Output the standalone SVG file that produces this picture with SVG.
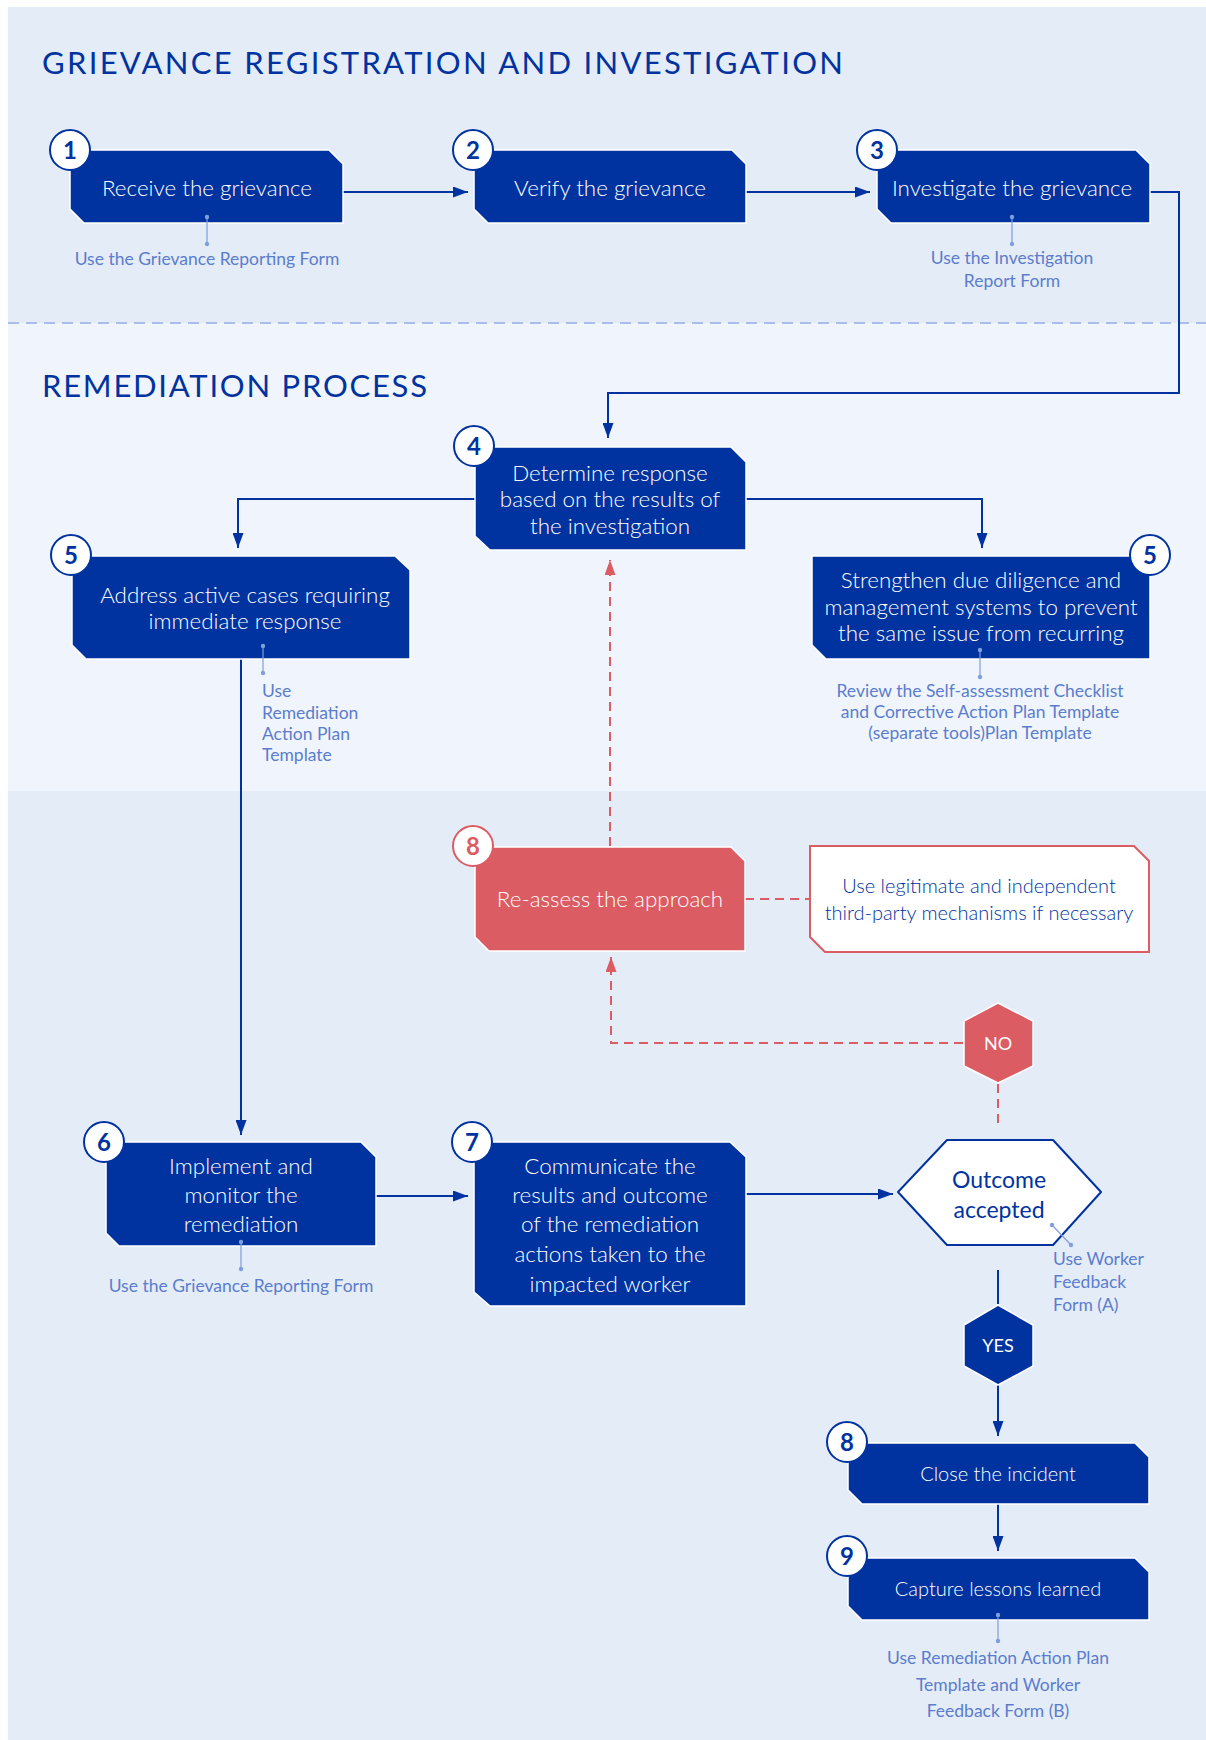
<svg xmlns="http://www.w3.org/2000/svg" width="1206" height="1740" viewBox="0 0 1206 1740">
  <defs>
    <style>
      .band-a { fill: #e4ecf8; }
      .band-b { fill: #f0f5fd; }
      .sep { stroke: #a9bde6; stroke-width: 2; stroke-dasharray: 11 7; fill: none; }
      .title { font-family: "Lato", "Liberation Sans", sans-serif; font-size: 31px; fill: #0033a0; }
      .box { fill: #0033a0; stroke: #ffffff; stroke-width: 1.5; }
      .box-red { fill: #dc5c63; stroke: #ffffff; stroke-width: 1.5; }
      .box-note { fill: #ffffff; stroke: #dc5c63; stroke-width: 2; }
      .lbl { font-family: "Lato", "Liberation Sans", sans-serif; font-size: 22.4px; font-weight: 300; fill: #ffffff; text-anchor: middle; }
      .lbl-dark { font-family: "Lato", "Liberation Sans", sans-serif; font-size: 20px; font-weight: 300; fill: #0033a0; text-anchor: middle; }
      .num-c { fill: #ffffff; stroke: #0033a0; stroke-width: 2; }
      .num-c-red { fill: #ffffff; stroke: #dc5c63; stroke-width: 2; }
      .num { font-family: "Lato", "Liberation Sans", sans-serif; font-size: 24px; font-weight: 700; fill: #0033a0; text-anchor: middle; }
      .num-red { font-family: "Lato", "Liberation Sans", sans-serif; font-size: 24px; font-weight: 700; fill: #dc5c63; text-anchor: middle; }
      .note { font-family: "Lato", "Liberation Sans", sans-serif; font-size: 17.5px; fill: #5b7dcc; }
      .mid { text-anchor: middle; }
      .tick { stroke: #7f9edb; stroke-width: 1.2; }
      .tick-dot { fill: #7f9edb; }
      .flow { stroke: #0033a0; stroke-width: 2; fill: none; }
      .flow-red { stroke: #dc5c63; stroke-width: 2; fill: none; stroke-dasharray: 9 6; }
      .gate { font-family: "Lato", "Liberation Sans", sans-serif; font-size: 18px; fill: #ffffff; text-anchor: middle; }
      .decide { font-family: "Lato", "Liberation Sans", sans-serif; font-size: 23px; fill: #0033a0; text-anchor: middle; }
    </style>
    <marker id="arr" markerUnits="userSpaceOnUse" markerWidth="15" markerHeight="11" refX="15" refY="5.5" orient="auto">
      <path d="M0 0 L15 5.5 L0 11 Z" fill="#0033a0"/>
    </marker>
    <marker id="arr-red" markerUnits="userSpaceOnUse" markerWidth="15" markerHeight="11" refX="15" refY="5.5" orient="auto">
      <path d="M0 0 L15 5.5 L0 11 Z" fill="#dc5c63"/>
    </marker>
  </defs>

  <!-- page and section bands -->
  <rect x="0" y="0" width="1206" height="1740" fill="#ffffff"/>
  <rect class="band-a" x="8" y="7" width="1198" height="316"/>
  <rect class="band-b" x="8" y="323" width="1198" height="468"/>
  <rect class="band-a" x="8" y="791" width="1198" height="949"/>
  <line class="sep" x1="8" y1="323" x2="1206" y2="323"/>

  <text class="title" x="42" y="74" textLength="801" lengthAdjust="spacing">GRIEVANCE REGISTRATION AND INVESTIGATION</text>
  <text class="title" x="42" y="397" textLength="385" lengthAdjust="spacing">REMEDIATION PROCESS</text>

  <!-- connectors -->
  <g id="connectors">
    <path class="flow" d="M343 192 H468" marker-end="url(#arr)"/>
    <path class="flow" d="M746 192 H870" marker-end="url(#arr)"/>
    <path class="flow" d="M1150 192 H1179 V393 H608 V438" marker-end="url(#arr)"/>
    <path class="flow" d="M475 499 H238 V548" marker-end="url(#arr)"/>
    <path class="flow" d="M746 499 H982 V548" marker-end="url(#arr)"/>
    <path class="flow" d="M241 659 V1135" marker-end="url(#arr)"/>
    <path class="flow" d="M376 1196 H468" marker-end="url(#arr)"/>
    <path class="flow" d="M746 1194 H893" marker-end="url(#arr)"/>
    <path class="flow" d="M998 1270 V1304"/>
    <path class="flow" d="M998 1385 V1436" marker-end="url(#arr)"/>
    <path class="flow" d="M998 1504 V1551" marker-end="url(#arr)"/>
    <path class="flow-red" d="M610 846 V560" marker-end="url(#arr-red)"/>
    <path class="flow-red" d="M745 899 H810"/>
    <path class="flow-red" d="M963 1043 H611 V957" marker-end="url(#arr-red)"/>
    <path class="flow-red" d="M998 1084 V1126"/>
  </g>

  <!-- step 1 -->
  <g id="step1">
    <path class="box" d="M70 150 H329 L343 164 V223 H84 L70 209 Z"/>
    <text class="lbl" x="207" y="196">Receive the grievance</text>
    <circle class="num-c" cx="70" cy="150" r="20"/>
    <text class="num" x="70" y="159">1</text>
    <line class="tick" x1="207" y1="217" x2="207" y2="244"/>
    <circle class="tick-dot" cx="207" cy="217" r="2.2"/>
    <circle class="tick-dot" cx="207" cy="244" r="2.2"/>
    <text class="note mid" x="207" y="265">Use the Grievance Reporting Form</text>
  </g>

  <!-- step 2 -->
  <g id="step2">
    <path class="box" d="M474 150 H732 L746 164 V223 H488 L474 209 Z"/>
    <text class="lbl" x="610" y="196">Verify the grievance</text>
    <circle class="num-c" cx="473" cy="150" r="20"/>
    <text class="num" x="473" y="159">2</text>
  </g>

  <!-- step 3 -->
  <g id="step3">
    <path class="box" d="M877 150 H1136 L1150 164 V223 H891 L877 209 Z"/>
    <text class="lbl" x="1012" y="196">Investigate the grievance</text>
    <circle class="num-c" cx="877" cy="150" r="20"/>
    <text class="num" x="877" y="159">3</text>
    <line class="tick" x1="1012" y1="217" x2="1012" y2="244"/>
    <circle class="tick-dot" cx="1012" cy="217" r="2.2"/>
    <circle class="tick-dot" cx="1012" cy="244" r="2.2"/>
    <text class="note mid" x="1012" y="264">Use the Investigation</text>
    <text class="note mid" x="1012" y="287">Report Form</text>
  </g>

  <!-- step 4 -->
  <g id="step4">
    <path class="box" d="M475 447 H731 L746 462 V550 H490 L475 536 Z"/>
    <text class="lbl" x="610" y="481">Determine response</text>
    <text class="lbl" x="610" y="507">based on the results of</text>
    <text class="lbl" x="610" y="534">the investigation</text>
    <circle class="num-c" cx="474" cy="446" r="20"/>
    <text class="num" x="474" y="455">4</text>
  </g>

  <!-- step 5: immediate response -->
  <g id="step5-immediate">
    <path class="box" d="M72 556 H395 L410 570 V659 H86 L72 645 Z"/>
    <text class="lbl" x="245" y="603">Address active cases requiring</text>
    <text class="lbl" x="245" y="629">immediate response</text>
    <circle class="num-c" cx="71" cy="555" r="20"/>
    <text class="num" x="71" y="564">5</text>
    <line class="tick" x1="263" y1="646" x2="263" y2="673"/>
    <circle class="tick-dot" cx="263" cy="646" r="2.2"/>
    <circle class="tick-dot" cx="263" cy="673" r="2.2"/>
    <text class="note" x="262" y="697">Use</text>
    <text class="note" x="262" y="719">Remediation</text>
    <text class="note" x="262" y="740">Action Plan</text>
    <text class="note" x="262" y="761">Template</text>
  </g>

  <!-- step 5: prevention -->
  <g id="step5-prevent">
    <path class="box" d="M812 556 H1135 L1150 570 V659 H826 L812 645 Z"/>
    <text class="lbl" x="981" y="588">Strengthen due diligence and</text>
    <text class="lbl" x="981" y="615">management systems to prevent</text>
    <text class="lbl" x="981" y="641">the same issue from recurring</text>
    <circle class="num-c" cx="1150" cy="555" r="20"/>
    <text class="num" x="1150" y="564">5</text>
    <line class="tick" x1="980" y1="650" x2="980" y2="677"/>
    <circle class="tick-dot" cx="980" cy="650" r="2.2"/>
    <circle class="tick-dot" cx="980" cy="677" r="2.2"/>
    <text class="note mid" x="980" y="697">Review the Self-assessment Checklist</text>
    <text class="note mid" x="980" y="718">and Corrective Action Plan Template</text>
    <text class="note mid" x="980" y="739">(separate tools)Plan Template</text>
  </g>

  <!-- step 8: re-assess -->
  <g id="step8-reassess">
    <path class="box-red" d="M475 847 H731 L745 861 V951 H489 L475 937 Z"/>
    <text class="lbl" x="610" y="907">Re-assess the approach</text>
    <circle class="num-c-red" cx="473" cy="846" r="20"/>
    <text class="num-red" x="473" y="855">8</text>
  </g>

  <!-- third-party note -->
  <g id="third-party-note">
    <path class="box-note" d="M810 846 H1134 L1149 861 V952 H825 L810 937 Z"/>
    <text class="lbl-dark" x="979" y="893">Use legitimate and independent</text>
    <text class="lbl-dark" x="979" y="920">third-party mechanisms if necessary</text>
  </g>

  <!-- NO gate -->
  <g id="gate-no">
    <polygon points="998,1003 1033,1021 1033,1066 998,1083 964,1066 964,1021" fill="#dc5c63" stroke="#ffffff" stroke-width="1.5" stroke-linejoin="round"/>
    <text class="gate" x="998" y="1050">NO</text>
  </g>

  <!-- step 6 -->
  <g id="step6">
    <path class="box" d="M106 1142 H361 L376 1157 V1246 H119 L106 1233 Z"/>
    <text class="lbl" x="241" y="1174">Implement and</text>
    <text class="lbl" x="241" y="1203">monitor the</text>
    <text class="lbl" x="241" y="1232">remediation</text>
    <circle class="num-c" cx="104" cy="1142" r="20"/>
    <text class="num" x="104" y="1151">6</text>
    <line class="tick" x1="241" y1="1242" x2="241" y2="1269"/>
    <circle class="tick-dot" cx="241" cy="1242" r="2.2"/>
    <circle class="tick-dot" cx="241" cy="1269" r="2.2"/>
    <text class="note mid" x="241" y="1292">Use the Grievance Reporting Form</text>
  </g>

  <!-- step 7 -->
  <g id="step7">
    <path class="box" d="M474 1142 H730 L746 1157 V1306 H490 L474 1292 Z"/>
    <text class="lbl" x="610" y="1174">Communicate the</text>
    <text class="lbl" x="610" y="1203">results and outcome</text>
    <text class="lbl" x="610" y="1232">of the remediation</text>
    <text class="lbl" x="610" y="1262">actions taken to the</text>
    <text class="lbl" x="610" y="1292">impacted worker</text>
    <circle class="num-c" cx="472" cy="1142" r="20"/>
    <text class="num" x="472" y="1151">7</text>
  </g>

  <!-- decision: outcome accepted -->
  <g id="decision-outcome">
    <polygon points="947,1140 1053,1140 1101,1192 1053,1245 947,1245 898,1192" fill="#ffffff" stroke="#0033a0" stroke-width="2" stroke-linejoin="round"/>
    <text class="decide" x="999" y="1188">Outcome</text>
    <text class="decide" x="999" y="1218">accepted</text>
    <line class="tick" x1="1052" y1="1225" x2="1071" y2="1245"/>
    <circle class="tick-dot" cx="1052" cy="1225" r="2.2"/>
    <circle class="tick-dot" cx="1071" cy="1245" r="2.2"/>
    <text class="note" x="1053" y="1265">Use Worker</text>
    <text class="note" x="1053" y="1288">Feedback</text>
    <text class="note" x="1053" y="1311">Form (A)</text>
  </g>

  <!-- YES gate -->
  <g id="gate-yes">
    <polygon points="998,1305 1033,1325 1033,1366 998,1385 964,1366 964,1325" fill="#0033a0" stroke="#ffffff" stroke-width="1.5" stroke-linejoin="round"/>
    <text class="gate" x="998" y="1352">YES</text>
  </g>

  <!-- step 8: close -->
  <g id="step8-close">
    <path class="box" d="M848 1443 H1135 L1149 1457 V1504 H862 L848 1490 Z"/>
    <text class="lbl" x="998" y="1481" style="font-size:20px">Close the incident</text>
    <circle class="num-c" cx="847" cy="1442" r="20"/>
    <text class="num" x="847" y="1451">8</text>
  </g>

  <!-- step 9 -->
  <g id="step9">
    <path class="box" d="M848 1558 H1135 L1149 1572 V1620 H862 L848 1606 Z"/>
    <text class="lbl" x="998" y="1596" style="font-size:20px">Capture lessons learned</text>
    <circle class="num-c" cx="847" cy="1556" r="20"/>
    <text class="num" x="847" y="1565">9</text>
    <line class="tick" x1="998" y1="1615" x2="998" y2="1641"/>
    <circle class="tick-dot" cx="998" cy="1615" r="2.2"/>
    <circle class="tick-dot" cx="998" cy="1641" r="2.2"/>
    <text class="note mid" x="998" y="1664">Use Remediation Action Plan</text>
    <text class="note mid" x="998" y="1691">Template and Worker</text>
    <text class="note mid" x="998" y="1717">Feedback Form (B)</text>
  </g>
</svg>
